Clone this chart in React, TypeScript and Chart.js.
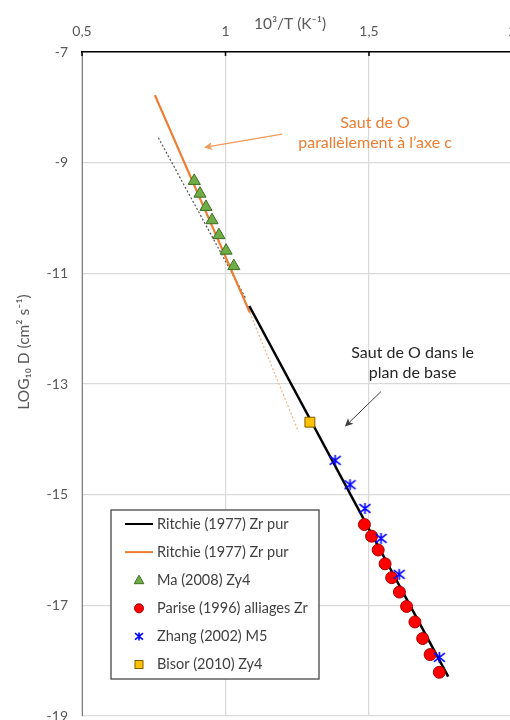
import React, { useEffect, useRef } from "react";
import { Chart, registerables } from "chart.js";
Chart.register(...registerables);

// ---- data (10^3/T in K^-1, log10 D in cm^2 s^-1) ----
const ritchieBlackX = [1.083, 1.776];
const ritchieBlackY = [-11.59, -18.29];
const ritchieOrangeX = [0.754, 1.085];
const ritchieOrangeY = [-7.78, -11.71];
const orangeExtX = [1.085, 1.254];
const orangeExtY = [-11.71, -13.86];
const blackExtX = [0.766, 1.07];
const blackExtY = [-8.55, -11.45];
const maX = [0.891, 0.911, 0.932, 0.953, 0.977, 1.002, 1.029];
const maY = [-9.33, -9.56, -9.8, -10.04, -10.31, -10.59, -10.87];
const pariseX = [1.484, 1.509, 1.532, 1.556, 1.579, 1.606, 1.631, 1.66, 1.687, 1.713, 1.745];
const pariseY = [-15.54, -15.75, -16.0, -16.25, -16.5, -16.76, -17.02, -17.3, -17.6, -17.89, -18.21];
const zhangX = [1.382, 1.434, 1.486, 1.542, 1.605, 1.745];
const zhangY = [-14.38, -14.82, -15.25, -15.79, -16.44, -17.94];
const bisorX = [1.294];
const bisorY = [-13.69];

const xTicks = [0.5, 1, 1.5, 2];
const yTicks = [-19, -17, -15, -13, -11, -9, -7];

const legendLabels = [
  "Ritchie (1977) Zr pur",
  "Ritchie (1977) Zr pur",
  "Ma (2008) Zy4",
  "Parise (1996) alliages Zr",
  "Zhang (2002) M5",
  "Bisor (2010) Zy4",
];

const xTitle = "10³/T (K⁻¹)";
const yTitle = "LOG₁₀ D (cm² s⁻¹)";
const noteOrange = ["Saut de O", "parallèlement à l’axe c"];
const noteOrangeAt = { x: 1.521, y: -8.28 };
const noteOrangeArrow = { x1: 1.197, y1: -8.484, x2: 0.925, y2: -8.725 };
const noteBlack = ["Saut de O dans le", "plan de base"];
const noteBlackAt = { x: 1.652, y: -12.435 };
const noteBlackArrow = { x1: 1.542, y1: -13.136, x2: 1.416, y2: -13.77 };

const FONT = "Lato, 'Noto Sans', sans-serif";
const ORANGE = "#ED7D31";

const pts = (xs: number[], ys: number[]) => xs.map((x, i) => ({ x, y: ys[i] }));

function drawStar(ctx: CanvasRenderingContext2D, cx: number, cy: number, h: number, color: string) {
  ctx.save();
  ctx.strokeStyle = color;
  ctx.lineWidth = 1.6;
  ctx.beginPath();
  ctx.moveTo(cx, cy - h);
  ctx.lineTo(cx, cy + h);
  ctx.moveTo(cx - h, cy - h * 0.8);
  ctx.lineTo(cx + h, cy + h * 0.8);
  ctx.moveTo(cx - h, cy + h * 0.8);
  ctx.lineTo(cx + h, cy - h * 0.8);
  ctx.stroke();
  ctx.restore();
}

function makeStar(size: number, color: string) {
  const c = document.createElement("canvas");
  c.width = size;
  c.height = size;
  const ctx = c.getContext("2d")!;
  drawStar(ctx, size / 2, size / 2, size / 2 - 1, color);
  return c;
}

function arrow(ctx: CanvasRenderingContext2D, x1: number, y1: number, x2: number, y2: number, color: string, lw: number, head: number) {
  const ang = Math.atan2(y2 - y1, x2 - x1);
  ctx.save();
  ctx.strokeStyle = color;
  ctx.fillStyle = color;
  ctx.lineWidth = lw;
  ctx.beginPath();
  ctx.moveTo(x1, y1);
  ctx.lineTo(x2 - Math.cos(ang) * head * 0.7, y2 - Math.sin(ang) * head * 0.7);
  ctx.stroke();
  ctx.beginPath();
  ctx.moveTo(x2, y2);
  ctx.lineTo(x2 - head * Math.cos(ang - 0.45), y2 - head * Math.sin(ang - 0.45));
  ctx.lineTo(x2 - head * 0.7 * Math.cos(ang), y2 - head * 0.7 * Math.sin(ang));
  ctx.lineTo(x2 - head * Math.cos(ang + 0.45), y2 - head * Math.sin(ang + 0.45));
  ctx.closePath();
  ctx.fill();
  ctx.restore();
}

export default function App() {
  const ref = useRef<HTMLCanvasElement | null>(null);

  useEffect(() => {
    const canvas = ref.current!;
    const star = makeStar(13, "#0000FF");

    const overlay = {
      id: "overlay",
      afterDatasetsDraw(chart: any) {
        const ctx = chart.ctx as CanvasRenderingContext2D;
        const xs = chart.scales.x;
        const ys = chart.scales.y;
        const area = chart.chartArea;

        // small tick marks below top axis
        ctx.save();
        ctx.strokeStyle = "#000";
        ctx.lineWidth = 1.5;
        xTicks.forEach((t) => {
          const px = xs.getPixelForValue(t);
          ctx.beginPath();
          ctx.moveTo(px, area.top);
          ctx.lineTo(px, area.top + 4);
          ctx.stroke();
        });
        ctx.restore();

        // axis titles
        ctx.save();
        ctx.fillStyle = "#595959";
        ctx.font = `15.5px ${FONT}`;
        ctx.textAlign = "center";
        ctx.textBaseline = "middle";
        ctx.fillText(xTitle, 290, 24);
        ctx.translate(24, 352);
        ctx.rotate(-Math.PI / 2);
        ctx.fillText(yTitle, 0, 0);
        ctx.restore();

        // annotations
        ctx.save();
        ctx.font = `16px ${FONT}`;
        ctx.textAlign = "center";
        ctx.textBaseline = "middle";
        ctx.fillStyle = ORANGE;
        const ox = xs.getPixelForValue(noteOrangeAt.x);
        const oy = ys.getPixelForValue(noteOrangeAt.y);
        noteOrange.forEach((t, i) => ctx.fillText(t, ox, oy + i * 20));
        ctx.fillStyle = "#262626";
        const bx = xs.getPixelForValue(noteBlackAt.x);
        const by = ys.getPixelForValue(noteBlackAt.y);
        noteBlack.forEach((t, i) => ctx.fillText(t, bx, by + i * 20));
        ctx.restore();

        arrow(
          ctx,
          xs.getPixelForValue(noteOrangeArrow.x1),
          ys.getPixelForValue(noteOrangeArrow.y1),
          xs.getPixelForValue(noteOrangeArrow.x2),
          ys.getPixelForValue(noteOrangeArrow.y2),
          "#F19A5E",
          1.25,
          9
        );
        arrow(
          ctx,
          xs.getPixelForValue(noteBlackArrow.x1),
          ys.getPixelForValue(noteBlackArrow.y1),
          xs.getPixelForValue(noteBlackArrow.x2),
          ys.getPixelForValue(noteBlackArrow.y2),
          "#404040",
          1,
          9
        );

        // legend box
        const L = 111, T = 510, R = 319, B = 679;
        ctx.save();
        ctx.fillStyle = "#fff";
        ctx.fillRect(L, T, R - L, B - T);
        ctx.strokeStyle = "#404040";
        ctx.lineWidth = 1.25;
        ctx.strokeRect(L, T, R - L, B - T);
        ctx.font = `14.5px ${FONT}`;
        ctx.textAlign = "left";
        ctx.textBaseline = "middle";
        const rowY = (i: number) => 524 + i * 28.1;
        const mx = 139;
        legendLabels.forEach((lab, i) => {
          const y = rowY(i);
          ctx.fillStyle = "#404040";
          ctx.fillText(lab, 157, y);
          if (i === 0 || i === 1) {
            ctx.strokeStyle = i === 0 ? "#000" : ORANGE;
            ctx.lineWidth = 2;
            ctx.beginPath();
            ctx.moveTo(125, y);
            ctx.lineTo(153, y);
            ctx.stroke();
          } else if (i === 2) {
            ctx.fillStyle = "#70AD47";
            ctx.strokeStyle = "#3B6E22";
            ctx.lineWidth = 1;
            ctx.beginPath();
            ctx.moveTo(mx, y - 5);
            ctx.lineTo(mx + 4.8, y + 3.5);
            ctx.lineTo(mx - 4.8, y + 3.5);
            ctx.closePath();
            ctx.fill();
            ctx.stroke();
          } else if (i === 3) {
            ctx.fillStyle = "#FF0000";
            ctx.strokeStyle = "#A50000";
            ctx.lineWidth = 1;
            ctx.beginPath();
            ctx.arc(mx, y, 4.5, 0, Math.PI * 2);
            ctx.fill();
            ctx.stroke();
          } else if (i === 4) {
            drawStar(ctx, mx, y, 4, "#0000FF");
          } else {
            ctx.fillStyle = "#FFC000";
            ctx.strokeStyle = "#7F6000";
            ctx.lineWidth = 1;
            ctx.fillRect(mx - 4, y - 4, 8, 8);
            ctx.strokeRect(mx - 4, y - 4, 8, 8);
          }
        });
        ctx.restore();
      },
    };

    const chart = new Chart(canvas, {
      type: "scatter",
      data: {
        datasets: [
          {
            label: legendLabels[0],
            data: pts(ritchieBlackX, ritchieBlackY),
            showLine: true,
            borderColor: "#000",
            borderWidth: 2.5,
            pointRadius: 0,
            order: 10,
          },
          {
            label: legendLabels[1],
            data: pts(ritchieOrangeX, ritchieOrangeY),
            showLine: true,
            borderColor: ORANGE,
            borderWidth: 2.25,
            pointRadius: 0,
            order: 10,
          },
          {
            label: legendLabels[2],
            data: pts(maX, maY),
            pointStyle: "triangle",
            pointRadius: 7,
            backgroundColor: "#70AD47",
            borderColor: "#3B6E22",
            borderWidth: 1,
            order: 1,
          },
          {
            label: legendLabels[3],
            data: pts(pariseX, pariseY),
            pointStyle: "circle",
            pointRadius: 6,
            backgroundColor: "#FF0000",
            borderColor: "#A50000",
            borderWidth: 1,
            order: 2,
          },
          {
            label: legendLabels[4],
            data: pts(zhangX, zhangY),
            pointStyle: star as any,
            pointRadius: 6,
            order: 0,
          },
          {
            label: legendLabels[5],
            data: pts(bisorX, bisorY),
            pointStyle: "rect",
            pointRadius: 7,
            backgroundColor: "#FFC000",
            borderColor: "#7F6000",
            borderWidth: 1,
            order: 1,
          },
          {
            label: "ext-orange",
            data: pts(orangeExtX, orangeExtY),
            showLine: true,
            borderColor: "#F4B183",
            borderWidth: 1.25,
            borderDash: [2, 2],
            pointRadius: 0,
            order: 11,
          },
          {
            label: "ext-black",
            data: pts(blackExtX, blackExtY),
            showLine: true,
            borderColor: "#595959",
            borderWidth: 1.25,
            borderDash: [2, 2],
            pointRadius: 0,
            order: 11,
          },
        ],
      },
      options: {
        animation: false,
        responsive: false,
        events: [],
        layout: { padding: { left: 0, top: 0, right: 27.5, bottom: 1 } },
        plugins: { legend: { display: false }, tooltip: { enabled: false } },
        scales: {
          x: {
            type: "linear",
            position: "top",
            min: 0.5,
            max: 2,
            afterBuildTicks: (s: any) => {
              s.ticks = xTicks.map((v) => ({ value: v }));
            },
            afterFit: (s: any) => {
              s.height = 52;
              s.paddingLeft = 0;
              s.paddingRight = 0;
            },
            ticks: {
              autoSkip: false,
              maxRotation: 0,
              padding: 12,
              color: "#595959",
              font: { family: FONT, size: 14 },
              callback: (v: any) => String(v).replace(".", ","),
            },
            grid: { color: "#D9D9D9", lineWidth: 1.25, drawTicks: false },
            border: { color: "#000", width: 1.5 },
          },
          y: {
            type: "linear",
            min: -19,
            max: -7,
            afterBuildTicks: (s: any) => {
              s.ticks = yTicks.map((v) => ({ value: v }));
            },
            afterFit: (s: any) => {
              s.width = 82;
              s.paddingTop = 0;
              s.paddingBottom = 0;
            },
            ticks: {
              autoSkip: false,
              padding: 14,
              color: "#595959",
              font: { family: FONT, size: 14 },
              callback: (v: any) => String(v),
            },
            grid: { color: "#D9D9D9", lineWidth: 1.25, drawTicks: false },
            border: { color: "#7F7F7F", width: 1 },
          },
        },
      },
      plugins: [overlay],
    } as any);

    return () => chart.destroy();
  }, []);

  return (
    <div
      style={{
        position: "fixed",
        left: 0,
        top: 0,
        width: 510,
        height: 720,
        overflow: "hidden",
        background: "#fff",
      }}
    >
      <canvas ref={ref} width={540} height={724} style={{ display: "block", width: 540, height: 724 }} />
    </div>
  );
}
